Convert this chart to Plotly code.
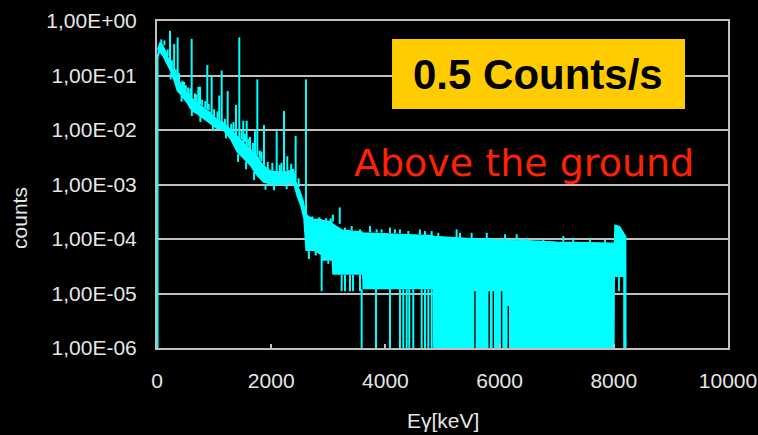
import plotly.graph_objects as go

# Values below the axis floor stand in for empty channels (log scale)
FLOOR = 1e-7

# Continuum band of the gamma spectrum: energy, upper and lower edge of the noisy trace
band_kev = [10, 50, 100, 150, 228, 290, 345, 400, 461, 520, 578, 640, 695, 811, 928,
            1045, 1161, 1278, 1395, 1512, 1628, 1745, 1862, 1979, 2096, 2212, 2329,
            2387, 2446, 2504, 2560, 2600, 2650, 2750, 2880, 2890, 3060, 3070, 3250,
            3590, 3600, 4100, 4830, 4840, 5500, 6400, 7000, 8010, 8020, 8100, 8130,
            8175, 8180, 8210, 8215]
band_hi = [0.30, 0.40, 0.36, 0.28, 0.17, 0.12, 0.099, 0.075, 0.056, 0.048, 0.043, 0.036,
           0.032, 0.026, 0.021, 0.0158, 0.0138, 0.0104, 0.0078, 0.0059, 0.0044, 0.0034,
           0.0022, 0.0018, 0.0017, 0.0017, 0.0018, 0.0019, 0.0010, 0.00075, 0.00050,
           0.00030, 0.00026, 0.00023, 0.00023, 0.00022, 0.00021, 0.00019, 0.000145,
           0.000135, 0.000130, 0.000125, 0.000115, 0.000112, 0.000102, 0.000094,
           0.000088, 0.000084, 0.000180, 0.000170, 0.000150, 0.000130, 0.000120,
           0.000110, FLOOR]
band_lo = [0.20, 0.26, 0.22, 0.17, 0.12, 0.08, 0.052, 0.045, 0.037, 0.031, 0.024, 0.021,
           0.0195, 0.0158, 0.0128, 0.0104, 0.0096, 0.0068, 0.0039, 0.0029, 0.0022,
           0.00144, 0.00108, 0.0010, 0.00094, 0.0010, 0.0010, 0.0010, 0.0006, 0.00042,
           0.00024, 0.00006, 0.00006, 0.00006, 0.00005, 0.00004, 0.00004, 0.000022,
           0.000022, 0.000022, 0.000012, 0.000012, 0.000012, FLOOR, FLOOR, FLOOR,
           FLOOR, FLOOR, 0.000020, 0.000020, 0.000020, 0.000020, FLOOR, FLOOR, FLOOR]

# Photopeaks and single-channel spikes: energy, foot and top
peak_kev = [228, 300, 362, 420, 473, 607, 724, 753, 881, 957, 1090, 1133, 1238, 1383,
            1441, 1511, 1570, 1628, 1716, 1757, 1874, 2096, 2224, 2282, 2428, 2609,
            2720, 2840, 2960, 3040, 3080, 3200, 3292, 3409, 3555, 3730, 3847, 3934,
            4080, 4168, 4255, 4401, 4605, 4693, 4810, 4926, 5247, 5306, 5510, 5775,
            6096, 6300, 6474, 6766, 7116, 7290, 7582, 7845,
            # smaller fluctuations along the continuum
            75, 130, 185, 260, 330, 385, 445, 505, 545, 585, 665, 690, 790, 845, 905,
            1000, 1060, 1190, 1300, 1340, 1480, 1540, 1600, 1680, 1800, 1830, 1940,
            2020, 2150, 2180, 2350, 2480]
peak_base = [0.16, 0.12, 0.09, 0.07, 0.055, 0.04, 0.03, 0.03, 0.024, 0.02, 0.015, 0.014,
             0.011, 0.008, 0.007, 0.006, 0.005, 0.0044, 0.0036, 0.0034, 0.0022, 0.0017,
             0.0017, 0.0018, 0.0012, 0.00025, 0.00023, 0.00023, 0.00022, 0.00021,
             0.00021, 0.00019, 0.000145, 0.000143, 0.000136, 0.000133, 0.000132,
             0.000131, 0.000129, 0.000128, 0.000127, 0.000123, 0.000120, 0.000118,
             0.000116, 0.000111, 0.000106, 0.000105, 0.000102, 0.000100, 0.000098,
             0.000096, 0.000093, 0.000091, 0.000089, 0.000088, 0.000087, 0.000085,
             0.38, 0.36, 0.23, 0.14, 0.10, 0.08, 0.06, 0.05, 0.045, 0.043, 0.035, 0.033,
             0.028, 0.025, 0.023, 0.018, 0.016, 0.012, 0.010, 0.009, 0.0068, 0.0060,
             0.0050, 0.0040, 0.0030, 0.0027, 0.0019, 0.0018, 0.0017, 0.0017, 0.0018,
             0.00090]
peak_top = [0.66, 0.38, 0.50, 0.074, 0.076, 0.47, 0.062, 0.062, 0.155, 0.098, 0.043,
            0.123, 0.052, 0.029, 0.50, 0.0148, 0.0148, 0.0075, 0.0095, 0.085, 0.0123,
            0.0095, 0.0224, 0.0033, 0.0078, 0.085, 0.00026, 0.00025, 0.00024, 0.00024,
            0.00028, 0.00038, 0.000162, 0.000173, 0.000150, 0.000173, 0.000150,
            0.000150, 0.000162, 0.000150, 0.000150, 0.000140, 0.000150, 0.000140,
            0.000140, 0.000130, 0.000150, 0.000130, 0.000130, 0.000130, 0.000122,
            0.000122, 0.000105, 0.000098, 0.000113, 0.000105, 0.000105, 0.000098,
            0.46, 0.44, 0.30, 0.19, 0.13, 0.11, 0.080, 0.066, 0.060, 0.058, 0.047, 0.045,
            0.036, 0.034, 0.030, 0.024, 0.022, 0.016, 0.013, 0.014, 0.0095, 0.0085,
            0.0068, 0.0058, 0.0042, 0.0040, 0.0026, 0.0025, 0.0023, 0.0025, 0.0024,
            0.0013]

# Channels that fall well below the continuum: energy, upper and lower end
dip_kev = [10, 2660, 2780, 2883, 2900, 3000, 3234, 3292, 3380, 3432, 3555, 3584, 3835,
           4080, 4255, 4313, 4372, 4418, 4488, 4635, 4693, 4751, 4810, 8090, 8183,
           # shallow dips below the low-energy continuum
           240, 430, 610, 760, 980, 1210, 1420, 1560, 1700, 1900, 2050, 2270]
dip_top = [0.25, 0.00006, 0.00006, 0.00005, 0.00005, 0.00004, 0.000022, 0.000022,
           0.000022, 0.000022, 0.000022, 0.000012, 0.000012, 0.000012, 0.000012,
           0.000012, 0.000012, 0.000012, 0.000012, 0.000012, 0.000012, 0.000012,
           0.000012, 0.000020, 0.00012,
           0.11, 0.042, 0.023, 0.018, 0.012, 0.0090, 0.0036, 0.0026, 0.0017, 0.0010,
           0.00095, 0.0010]
dip_bottom = [FLOOR, 0.000043, 0.000050, 0.000011, 0.000040, 0.000035, 0.000011,
              0.000011, 0.000011, 0.000011, 0.000011, FLOOR, FLOOR, FLOOR, FLOOR, FLOOR,
              FLOOR, FLOOR, FLOOR, FLOOR, FLOOR, FLOOR, FLOOR, 0.000011, FLOOR,
              0.085, 0.033, 0.018, 0.014, 0.0095, 0.0070, 0.0026, 0.0019, 0.0012,
              0.00080, 0.00078, 0.00082]

# Empty stretches inside the dense high-energy region: energy and upper end
gap_kev = [5568, 5818, 5890, 6035, 6152]
gap_top = [0.000011, 0.000011, 0.000011, 0.000011, 0.0000059]

# Axis ticks
y_tick_vals = [1e-6, 1e-5, 1e-4, 1e-3, 1e-2, 1e-1, 1]
y_tick_text = ["1,00E-06", "1,00E-05", "1,00E-04", "1,00E-03", "1,00E-02", "1,00E-01",
               "1,00E+00"]
x_tick_vals = [0, 2000, 4000, 6000, 8000, 10000]
x_tick_text = ["0", "2000", "4000", "6000", "8000", "10000"]

CYAN = "#00ffff"
GRID = "#c0c0c0"
LABEL = "#e6e6e6"


def segments(xs, y0s, y1s):
    """Vertical segments joined into one trace, separated by None."""
    sx, sy = [], []
    for x, a, b in zip(xs, y0s, y1s):
        sx += [x, x, None]
        sy += [a, b, None]
    return sx, sy


fig = go.Figure()

fig.add_trace(go.Scatter(x=band_kev, y=band_lo, mode="lines",
                         line=dict(color=CYAN, width=0), hoverinfo="skip"))
fig.add_trace(go.Scatter(x=band_kev, y=band_hi, mode="lines", fill="tonexty",
                         fillcolor=CYAN, line=dict(color=CYAN, width=1.2)))

px_, py_ = segments(peak_kev, peak_base, peak_top)
fig.add_trace(go.Scatter(x=px_, y=py_, mode="lines", line=dict(color=CYAN, width=2)))

dx_, dy_ = segments(dip_kev, dip_top, dip_bottom)
fig.add_trace(go.Scatter(x=dx_, y=dy_, mode="lines", line=dict(color=CYAN, width=2)))

gx_, gy_ = segments(gap_kev, [FLOOR] * len(gap_kev), gap_top)
fig.add_trace(go.Scatter(x=gx_, y=gy_, mode="lines", line=dict(color="#000000", width=1.4)))

tick_font = dict(family="Liberation Sans, Arial, sans-serif", size=21, color=LABEL)

fig.update_layout(
    width=758, height=435,
    margin=dict(l=157, r=30, t=21, b=87),
    paper_bgcolor="#000000", plot_bgcolor="#000000",
    showlegend=False,
    xaxis=dict(range=[0, 10000], tickvals=x_tick_vals, ticktext=x_tick_text,
               showgrid=False, zeroline=False, automargin=False,
               showline=True, mirror=True, linecolor=GRID, linewidth=2,
               ticks="inside", ticklen=4, tickwidth=2, tickcolor=GRID,
               tickfont=tick_font, ticklabelstandoff=13),
    yaxis=dict(type="log", range=[-6, 0], tickvals=y_tick_vals, ticktext=y_tick_text,
               showgrid=True, gridcolor=GRID, gridwidth=2, zeroline=False,
               automargin=False,
               showline=True, mirror=True, linecolor=GRID, linewidth=2,
               ticks="", tickfont=tick_font, ticklabelstandoff=14),
    shapes=[dict(type="rect", xref="paper", yref="paper", x0=0.4116, x1=0.9247,
                 y0=0.7309, y1=0.945, fillcolor="#ffcc00", line=dict(width=0),
                 layer="above")],
    annotations=[
        dict(text="0.5 Counts/s", xref="paper", yref="paper", x=0.668, y=0.835,
             xanchor="center", yanchor="middle", showarrow=False,
             font=dict(family="Liberation Sans, Arial, sans-serif", size=42,
                       color="#000000", weight="bold")),
        dict(text="Above the ground", xref="paper", yref="paper", x=0.642, y=0.565,
             xanchor="center", yanchor="middle", showarrow=False,
             font=dict(family="DejaVu Sans, sans-serif", size=38, color="#ff2200")),
        dict(text="counts", xref="paper", yref="paper", x=-0.24, y=0.3976,
             xanchor="center", yanchor="middle", textangle=-90, showarrow=False,
             font=tick_font),
        dict(text="Eγ[keV]", xref="paper", yref="paper", x=0.5, y=-0.2205,
             xanchor="center", yanchor="middle", showarrow=False, font=tick_font),
    ],
)

fig.write_html("out.html")
